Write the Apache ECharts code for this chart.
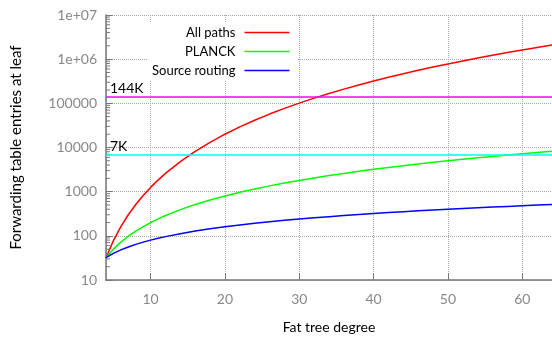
<!DOCTYPE html>
<html>
<head>
<meta charset="utf-8">
<script src="https://cdn.jsdelivr.net/npm/echarts@6/dist/echarts.min.js"></script>
<style>
  html, body { margin: 0; padding: 0; background: #fff; }
  #chart { width: 552px; height: 339px; }
</style>
</head>
<body>
<div id="chart"></div>
<script>
  // fat tree degree k
  var degrees = [4, 5, 6, 7, 8, 9, 10, 11, 12, 14, 16, 18, 20, 22, 24, 26, 28,
    30, 32, 34, 36, 38, 40, 42, 44, 46, 48, 50, 52, 54, 56, 58, 60, 62, 64];
  var allPaths = [32, 78, 162, 300, 512, 820, 1250, 1830, 2592, 4802, 8192,
    13122, 20000, 29282, 41472, 57122, 76832, 101250, 131072, 167042, 209952,
    260642, 320000, 388962, 468512, 559682, 663552, 781250, 913952, 1062882,
    1229312, 1414562, 1620000, 1847042, 2097152];
  var planck = [32, 50, 72, 98, 128, 162, 200, 242, 288, 392, 512, 648, 800,
    968, 1152, 1352, 1568, 1800, 2048, 2312, 2592, 2888, 3200, 3528, 3872,
    4232, 4608, 5000, 5408, 5832, 6272, 6728, 7200, 7688, 8192];
  var sourceRouting = [32, 40, 48, 56, 64, 72, 80, 88, 96, 112, 128, 144, 160,
    176, 192, 208, 224, 240, 256, 272, 288, 304, 320, 336, 352, 368, 384, 400,
    416, 432, 448, 464, 480, 496, 512];
  var thresholdValues = [144000, 7000];
  var thresholdLabels = ['144K', '7K'];
  var thresholdColors = ['#ff00ff', '#00ffff'];
  var seriesNames = ['All paths', 'PLANCK', 'Source routing'];
  var seriesColors = ['#ff0000', '#00ff00', '#0000ff'];

  // log minor ticks 2..9 per decade
  var minorTicks = [];
  for (var d = 1; d < 7; d++) {
    for (var m = 2; m < 10; m++) minorTicks.push([4, m * Math.pow(10, d)]);
  }

  function pairs(ys) {
    return degrees.map(function (k, i) { return [k, ys[i]]; });
  }

  var font = 'Lato, "Open Sans", sans-serif';
  var mychart = echarts.init(document.getElementById('chart'));

  var series = [allPaths, planck, sourceRouting].map(function (ys, i) {
    return {
      name: seriesNames[i],
      type: 'line',
      data: pairs(ys),
      symbol: 'none',
      z: 3,
      lineStyle: { color: seriesColors[i], width: 1.5 },
      itemStyle: { color: seriesColors[i] }
    };
  });

  series.push({
    name: 'limits',
    type: 'line',
    data: [],
    z: 2,
    markLine: {
      silent: true,
      symbol: 'none',
      animation: false,
      data: thresholdValues.map(function (v, i) {
        return {
          yAxis: v,
          lineStyle: { color: thresholdColors[i], width: 1.5, type: 'solid' },
          label: {
            show: true,
            formatter: thresholdLabels[i],
            position: 'insideStartTop',
            distance: [4, 1],
            color: '#000',
            fontSize: 14,
            fontFamily: font
          }
        };
      })
    }
  });

  series.push({
    name: 'minor',
    type: 'custom',
    silent: true,
    clip: false,
    z: 4,
    data: minorTicks,
    renderItem: function (params, api) {
      var p = api.coord([api.value(0), api.value(1)]);
      return {
        type: 'line',
        shape: { x1: p[0], y1: p[1], x2: p[0] + 4, y2: p[1] },
        style: { stroke: '#777', lineWidth: 1 }
      };
    }
  });

  var option = {
    animation: false,
    grid: { left: 106, right: -1, top: 15, bottom: 59 },
    legend: {
      data: seriesNames,
      orient: 'vertical',
      left: 148,
      top: 22,
      align: 'right',
      padding: [4, 8, 4, 4],
      backgroundColor: '#fff',
      icon: 'rect',
      itemWidth: 45,
      itemHeight: 1.5,
      itemGap: 6,
      textStyle: {
        width: 90,
        align: 'right',
        color: '#000',
        fontSize: 13,
        fontFamily: font,
        padding: [0, 4, 0, 0]
      }
    },
    xAxis: {
      type: 'value',
      min: 4,
      max: 64,
      splitNumber: 6,
      name: 'Fat tree degree',
      nameLocation: 'middle',
      nameGap: 40,
      nameTextStyle: { color: '#000', fontSize: 14, fontFamily: font },
      axisLine: { lineStyle: { color: '#777', width: 1.5 } },
      axisTick: { inside: true, length: 7, lineStyle: { color: '#777' } },
      axisLabel: {
        color: '#888',
        fontSize: 14,
        fontFamily: font,
        margin: 12,
        showMinLabel: false,
        showMaxLabel: false,
        formatter: function (v) { return v % 10 === 0 ? v : ''; }
      },
      splitLine: { show: true, lineStyle: { color: '#aaa', type: 'dotted' } }
    },
    yAxis: {
      type: 'log',
      logBase: 10,
      min: 10,
      max: 1e7,
      splitNumber: 6,
      name: 'Forwarding table entries at leaf',
      nameLocation: 'middle',
      nameGap: 82,
      nameTextStyle: { color: '#000', fontSize: 15, fontFamily: font },
      axisLine: { show: true, lineStyle: { color: '#777', width: 1.5 } },
      axisTick: { show: true, inside: true, length: 7, lineStyle: { color: '#777' } },
      axisLabel: {
        color: '#888',
        fontSize: 14,
        fontFamily: font,
        margin: 9,
        formatter: function (v) {
          return v >= 1e6 ? '1e+0' + Math.round(Math.log10(v)) : String(v);
        }
      },
      splitLine: { show: true, lineStyle: { color: '#aaa', type: 'dotted' } }
    },
    series: series
  };

  mychart.setOption(option);
</script>
</body>
</html>
